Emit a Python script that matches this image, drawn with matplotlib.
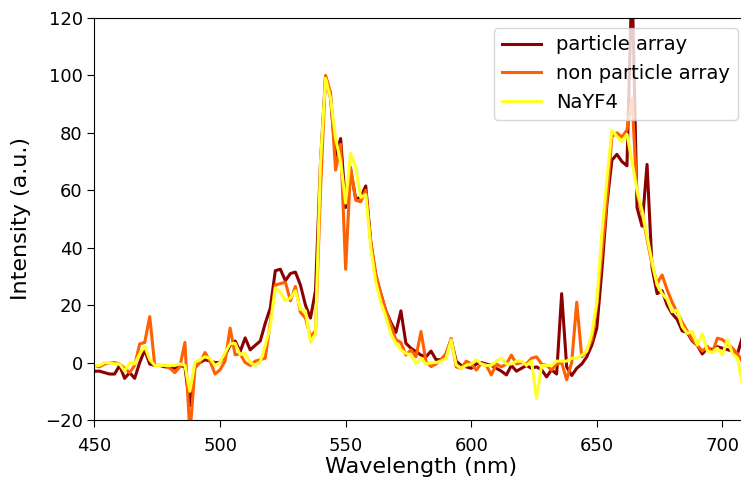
import numpy as np
import matplotlib
import matplotlib.pyplot as plt

matplotlib.use('Agg')

# wavelength grid (nm), 2 nm steps from 450 to 708
wavelength = np.arange(450, 709, 2)

particle_array = [
    -3, -3, -3.5, -4, -4, -1, -5.5, -3.5, -5.5, 0,
    4.4, -0.5, -1, -1, -1.5, -1.5, -2, -1, -1.5, -15,
    -1, 0, 1, 0.5, 0, 0, 2.5, 6, 7.5, 3.8,
    8.6, 4.4, 6, 7.5, 13.7, 19, 32, 32.5, 28.5, 31,
    31.5, 27, 20, 15.5, 25, 70, 99.5, 92, 72, 78,
    54, 67, 57, 57.5, 61.5, 42, 30, 24, 18, 14,
    10.5, 18, 6.7, 5, 3.8, 2.6, 2, 4, 1, 1,
    3, 8, 0.5, -1, -1.5, -2, -0.5, 0, -0.5, -1,
    -2, -3, -4.3, -1, -3, -2, -1, -2, -1.5, -2.5,
    -5, -2.5, -4, 24, -1.5, -4.5, -2, -0.5, 2, 6,
    12, 32, 55, 70.5, 72.5, 70, 68.5, 135, 54, 47.5,
    69, 33, 24, 25, 20, 17, 15, 11, 10.5, 7.5,
    6, 3, 5, 4.5, 5.5, 5, 4.5, 4, 3, 9,
]

non_particle_array = [
    -1, -1.5, -0.5, 0, 0, -0.5, -2, -3.5, -1, 6.5,
    7, 16, -1, -1, -1, -2, -3.5, -1.5, 7, -25,
    -2, 0, 3.5, 0.5, -4, -2.5, 0.5, 12, 2.7, 3,
    0, -1, 0.5, 1, 1.5, 14, 27, 27.5, 28, 21.5,
    26.5, 17.5, 15.5, 9, 11, 60, 100, 94, 67, 76,
    32.5, 68, 56.5, 56, 60, 42, 31, 24, 18, 13,
    8, 7, 2.6, 4.4, 2, 10.8, 0.3, -1.4, -0.5, 1,
    3, 8.4, -1.5, -2, 0.5, -0.5, -2.6, -0.3, -1, -4.3,
    -0.5, -1.5, -0.5, 2.6, -0.5, 0, -0.5, 1.5, 2, -0.5,
    -1, -2.6, -0.5, 0, -6, 0, 21, 2, 4, 8,
    20, 38, 56.6, 78.7, 80, 78.5, 81, 92, 59, 52,
    43, 34, 27.6, 30.5, 25.3, 21, 17.5, 14, 11, 8,
    6, 4, 5.6, 3.5, 8.5, 8, 6.5, 5, 3, 0.3,
]

nayf4 = [
    -1, -1, 0, 0, -0.5, -0.5, -3, 0, -0.5, 3,
    5.6, 1, -1, -1, -1, -1, -1, -0.5, -1, -10,
    0, 1, 2, 1.5, -1, 0, 3.5, 6.5, 6.7, 2.7,
    3.3, 0, -1, 0.3, 6, 12.5, 26, 24.5, 21.5, 22.5,
    25, 18.5, 18, 7, 10, 70, 99, 92, 78, 70,
    55.5, 73, 68, 57.5, 58.5, 40, 28, 21, 16, 10,
    6.7, 4.4, 3.2, 2.6, -0.3, 1.5, -0.5, 0, 0, 0.5,
    1.5, 7.9, -0.8, -2, -1, -0.5, 1, -0.5, -1, -1,
    0.5, 1.5, -0.5, -0.5, 0.5, 0.5, -1, 0.5, -12.5, -1,
    -1, -1, 0.5, 0.5, 0.5, 1.5, 1.5, 2.5, 4, 10,
    21, 45, 63.6, 81, 78.7, 77, 79.5, 70, 60, 53,
    44, 35, 27, 24, 22, 17.7, 18.3, 12.5, 10.2, 10.8,
    6.1, 10, 4, 3.5, 5, 2.6, 7.9, 3.2, 1.5, -8,
]

fig = plt.figure(figsize=(7.41, 4.79), dpi=100)
ax = fig.add_axes([0.1275, 0.1232, 0.8813, 0.8393])

ax.plot(wavelength, particle_array, color='darkred', lw=2.2, label='particle array')
ax.plot(wavelength, non_particle_array, color='#ff6000', lw=2.2, label='non particle array')
ax.plot(wavelength, nayf4, color='#ffff2a', lw=2.2, label='NaYF4')

ax.set_xlim(450, 710)
ax.set_ylim(-20, 120)
ax.set_xlabel('Wavelength (nm)', fontsize=16, labelpad=2)
ax.set_ylabel('Intensity (a.u.)', fontsize=16, labelpad=10)
ax.tick_params(labelsize=13, length=5)
ax.tick_params(axis='x', pad=7)
ax.legend(loc='upper right', fontsize=14)

fig.savefig('out.png', dpi=100)
